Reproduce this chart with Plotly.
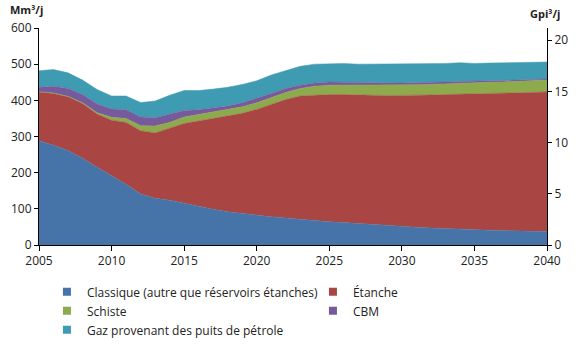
import plotly.graph_objects as go

# years and series (Mm3/j)
years = list(range(2005, 2041))

classique = [288, 276, 261, 240, 215, 191, 168, 141, 129, 124, 115, 106, 99, 92, 87, 83, 78, 75,
             71, 67, 64, 62, 59, 56, 53, 51, 49, 47, 45, 44, 43, 41, 40, 39, 38, 37]
etanche = [135, 143, 149, 151, 147, 154, 171, 175, 181, 198, 221, 237, 251, 264, 277, 292, 311, 327,
           341, 348, 352, 354, 355, 358, 360, 362, 365, 368, 371, 373, 375, 378, 380, 382, 384, 386]
schiste = [1, 1, 1, 2, 4, 8, 11, 14, 19, 17, 18, 18, 17, 17, 18, 18, 19, 20,
           21, 24, 26, 26, 27, 28, 28, 29, 29, 29, 30, 30, 30, 31, 31, 32, 32, 33]
cbm = [12, 19, 22, 23, 24, 23, 24, 24, 23, 23, 18, 13, 11, 11, 11, 12, 11, 11,
       9, 9, 9, 8, 8, 7, 7, 6, 6, 5, 5, 5, 4, 4, 4, 3, 3, 3]
gaz_petrole = [46, 46, 43, 40, 40, 36, 38, 40, 46, 52, 55, 53, 53, 52, 51, 49, 51, 50,
               52, 52, 51, 52, 51, 51, 52, 52, 51, 52, 51, 52, 50, 49, 49, 48, 48, 47]

series = [
    ("Classique (autre que réservoirs étanches)", classique, "#4674A9"),
    ("Étanche", etanche, "#A94644"),
    ("Schiste", schiste, "#8DAA4C"),
    ("CBM", cbm, "#775A9B"),
    ("Gaz provenant des puits de pétrole", gaz_petrole, "#3F9BB2"),
]

FONT = "'Open Sans', sans-serif"
M3_PER_CF = 28.317  # 1 Gpi3 = 28.317 Mm3

fig = go.Figure()
for name, vals, col in series:
    fig.add_trace(go.Scatter(x=years, y=vals, name=name, mode="lines", stackgroup="one",
                             line=dict(width=0.5, color=col), fillcolor=col,
                             legendgroup=name, showlegend=False, hoverinfo="x+y+name"))
# square legend keys like the original
for name, vals, col in series:
    fig.add_trace(go.Scatter(x=[None], y=[None], name=name, mode="markers", legendgroup=name,
                             marker=dict(symbol="square", size=8, color=col)))

# invisible trace to get the right-hand axis in Gpi3/j
fig.add_trace(go.Scatter(x=[2005, 2040], y=[0, 0], yaxis="y2", mode="lines",
                         line=dict(width=0), showlegend=False, hoverinfo="skip"))

fig.update_layout(
    width=580, height=344,
    margin=dict(l=39, r=33, t=28, b=99, autoexpand=False),
    paper_bgcolor="white", plot_bgcolor="white",
    font=dict(family=FONT, size=11, color="#222"),
    xaxis=dict(range=[2005, 2040], tickvals=[2005, 2010, 2015, 2020, 2025, 2030, 2035, 2040],
               showgrid=False, zeroline=False, showline=True, linecolor="black", linewidth=1,
               ticks="outside", ticklen=5, tickcolor="black", tickfont=dict(size=12)),
    yaxis=dict(range=[0, 600], dtick=100, showgrid=False, zeroline=False, showline=True,
               linecolor="black", linewidth=1, ticks="outside", ticklen=4, tickcolor="black",
               tickfont=dict(size=12)),
    yaxis2=dict(overlaying="y", side="right", range=[0, 600 / M3_PER_CF], dtick=5,
                showgrid=False, zeroline=False, showline=True, linecolor="black", linewidth=1,
                ticks="outside", ticklen=4, tickcolor="black", tickfont=dict(size=12)),
    legend=dict(orientation="h", x=-0.0001, xanchor="left", y=-0.149, yanchor="top",
                indentation=8, entrywidth=213, entrywidthmode="pixels", font=dict(size=12),
                tracegroupgap=0, traceorder="normal", bgcolor="rgba(0,0,0,0)"),
    showlegend=True,
    annotations=[
        dict(text="<b>Mm³/j</b>", xref="paper", yref="paper", x=-0.061, y=1.083,
             xanchor="left", yanchor="middle", showarrow=False, font=dict(size=11)),
        dict(text="<b>Gpi³/j</b>", xref="paper", yref="paper", x=0.963, y=1.065,
             xanchor="left", yanchor="middle", showarrow=False, font=dict(size=11)),
    ],
)

# drop the page's default body margin so the figure sits at 0,0
fig.write_html("out.html", config={"displayModeBar": False},
               post_script="document.body.style.margin='0';")
